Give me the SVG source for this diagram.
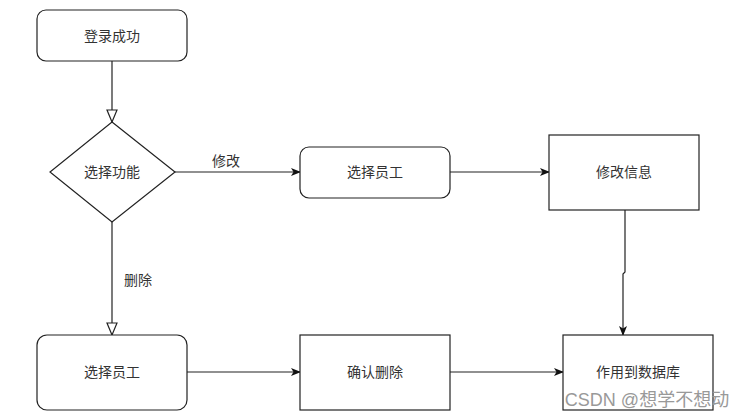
<svg xmlns="http://www.w3.org/2000/svg" width="748" height="419" viewBox="0 0 748 419">
<style>
.n{fill:#fff;stroke:#222;stroke-width:1.2}
.t{font-family:"Liberation Sans","Noto Sans CJK SC",sans-serif;font-size:14px;fill:#333;text-anchor:middle;dominant-baseline:central}
.e{fill:none;stroke:#222;stroke-width:1.2}
</style>
<defs>
<marker id="f" viewBox="0 0 10 10" refX="9" refY="5" markerWidth="10" markerHeight="10" markerUnits="userSpaceOnUse" orient="auto">
<path d="M0,1 L10,5 L0,9 L2.5,5 Z" fill="#111"/>
</marker>
<marker id="o" viewBox="0 0 14 12" refX="13" refY="6" markerWidth="14" markerHeight="12" markerUnits="userSpaceOnUse" orient="auto">
<path d="M1,1 L13,6 L1,11 Z" fill="#fff" stroke="#222" stroke-width="1.2"/>
</marker>
</defs>
<rect width="748" height="419" fill="#fff"/>
<g id="edges">
<path class="e" d="M112,61 V122" marker-end="url(#o)"/>
<path class="e" d="M175,172 H300" marker-end="url(#f)"/>
<text class="t" x="226" y="161">修改</text>
<path class="e" d="M450,172 H549" marker-end="url(#f)"/>
<path class="e" d="M625,210 V272 L623,274 V335" marker-end="url(#f)"/>
<path class="e" d="M112,222 V335" marker-end="url(#o)"/>
<text class="t" x="138" y="280">删除</text>
<path class="e" d="M187,372 H300" marker-end="url(#f)"/>
<path class="e" d="M450,372 H563" marker-end="url(#f)"/>
</g>
<g id="login"><rect class="n" x="37" y="10" width="150" height="51" rx="9"/><text class="t" x="112" y="36">登录成功</text></g>
<g id="choose"><path class="n" d="M112,122 L175,172 L112,222 L50,172 Z"/><text class="t" x="112" y="172">选择功能</text></g>
<g id="selEmp1"><rect class="n" x="300" y="147" width="150" height="51" rx="9"/><text class="t" x="375" y="172">选择员工</text></g>
<g id="editInfo"><rect class="n" x="549" y="135" width="150" height="75"/><text class="t" x="624" y="172">修改信息</text></g>
<g id="selEmp2"><rect class="n" x="37" y="335" width="150" height="75" rx="10"/><text class="t" x="112" y="372">选择员工</text></g>
<g id="confirm"><rect class="n" x="300" y="335" width="150" height="75"/><text class="t" x="375" y="372">确认删除</text></g>
<g id="db"><rect class="n" x="563" y="335" width="150" height="75"/><text class="t" x="638" y="372">作用到数据库</text></g>
<text x="647" y="400" style="font-family:'Liberation Sans','Noto Sans CJK SC',sans-serif;font-size:18px;fill:#999;text-anchor:middle;dominant-baseline:central">CSDN @想学不想动</text>
</svg>
